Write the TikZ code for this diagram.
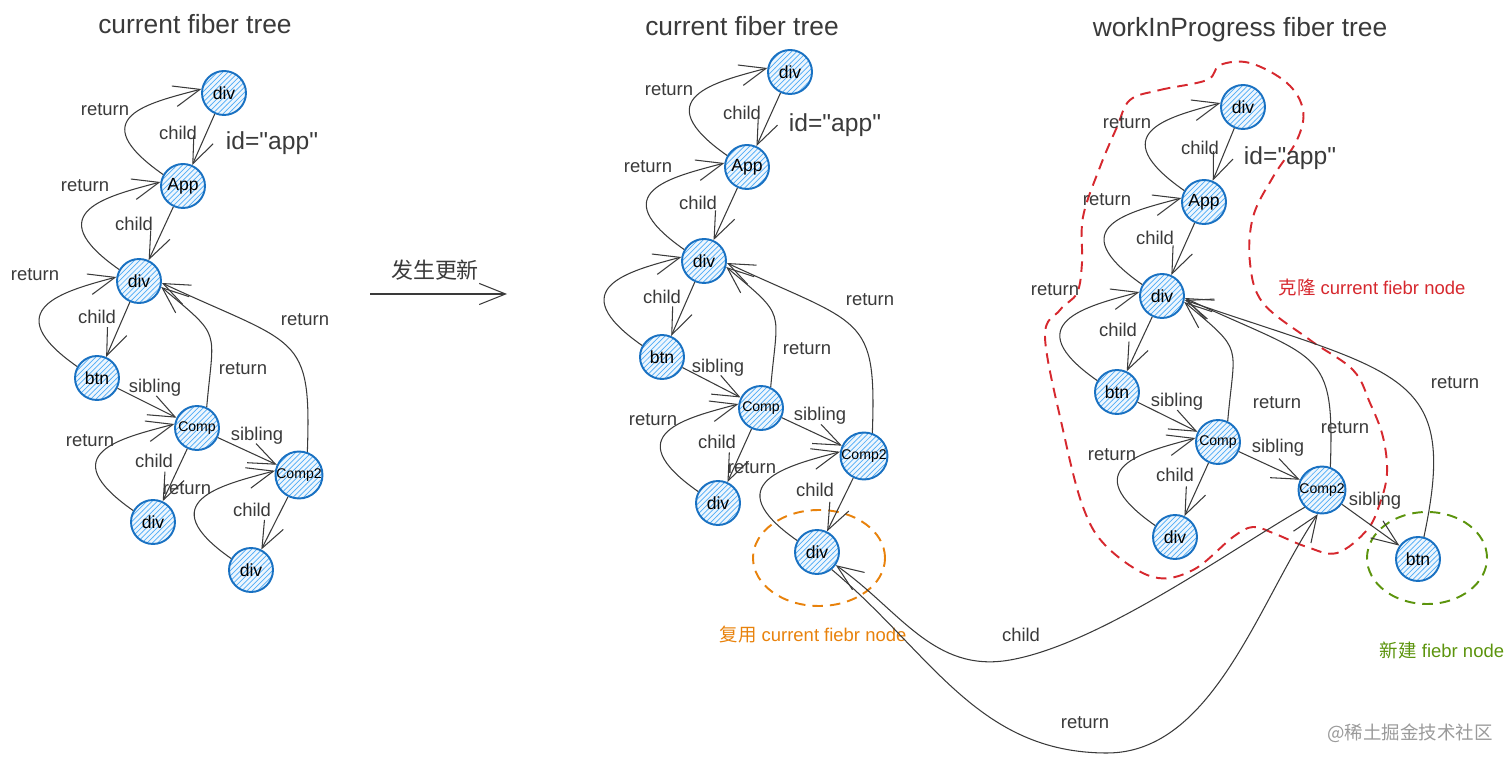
\documentclass[tikz,border=0pt]{standalone}
\usepackage{fontspec}
\setmainfont[Ligatures=TeXOff]{Liberation Sans}
\newfontfamily\cjk{Noto Sans CJK SC}
\usepackage{xcolor}
\usepackage{tikz}
\usetikzlibrary{arrows.meta,patterns}

\definecolor{fiberblue}{HTML}{1971C2}
\definecolor{fiberhatch}{HTML}{4DABF7}
\definecolor{fiberfill}{HTML}{EEF6FD}
\definecolor{inkgray}{HTML}{3A3A3A}
\definecolor{reuseorange}{HTML}{E8820C}
\definecolor{clonered}{HTML}{D6282E}
\definecolor{newgreen}{HTML}{5C940D}
\definecolor{markgray}{HTML}{9A9A9A}

\newcommand{\idapp}{id="app"}

\tikzset{
  fiber/.style={circle, draw=fiberblue, line width=1.1pt, minimum size=0.88cm, inner sep=0pt,
    preaction={fill=fiberfill}, pattern=north east lines, pattern color=fiberhatch,
    font=\fontsize{10}{12}\selectfont},
  compfont/.style={font=\fontsize{8}{10}\selectfont},
  link/.style={draw=inkgray, line width=0.6pt, -{Straight Barb[length=15pt, width=12pt]}},
  goback/.style={out=145, in=195, out distance=2cm, in distance=1.1cm},
  lbl/.style={text=inkgray, font=\fontsize{10.5}{12}\selectfont},
  treetitle/.style={text=inkgray, font=\fontsize{15}{18}\selectfont},
  idtext/.style={text=inkgray, font=\fontsize{14}{16}\selectfont},
  blob/.style={line width=1.1pt, dash pattern=on 6pt off 4pt},
}

\begin{document}
\begin{tikzpicture}
			\useasboundingbox (0,0) rectangle (30.24,-15.28);
			
			% dashed groups
			\draw[blob, clonered] plot[smooth cycle, tension=0.6] coordinates {
				(22.60,-2.00) (23.20,-1.80) (24.14,-1.60) (24.40,-1.30) (25.00,-1.26) (25.74,-1.66)
				(26.06,-2.20) (25.94,-2.80) (25.46,-3.54) (25.06,-4.34) (25.00,-5.26) (25.26,-6.06)
				(26.20,-6.80) (27.06,-7.40) (27.40,-8.06) (27.66,-8.74) (27.74,-9.46) (27.60,-10.06)
				(27.34,-10.60) (26.74,-11.06) (26.14,-10.94) (25.46,-10.66) (25.06,-10.54) (24.66,-10.74)
				(23.86,-11.40) (23.06,-11.54) (22.14,-10.94) (21.66,-10.14) (21.26,-8.60) (20.90,-6.74)
				(21.20,-6.20) (21.54,-5.86) (21.64,-5.26) (21.66,-4.34) (22.00,-3.34) (22.34,-2.54)};
			\draw[blob, reuseorange] (16.38,-11.16) ellipse (1.32 and 0.96);
			\draw[blob, newgreen] (28.54,-11.16) ellipse (1.20 and 0.92);
			
			% current fiber tree (before update)
			\node[treetitle] (title1) at (3.90,-0.48) {current fiber tree};
			\node[fiber] (div1) at (4.48,-1.86) {div};
			\node[fiber] (app) at (3.66,-3.72) {App};
			\node[fiber] (div2) at (2.78,-5.62) {div};
			\node[fiber] (btn) at (1.94,-7.56) {btn};
			\node[fiber, compfont] (comp) at (3.94,-8.56) {Comp};
			\node[fiber] (div3) at (3.06,-10.44) {div};
			\node[fiber, compfont] (comp2) at (5.98,-9.50) {Comp2};
			\node[fiber] (div4) at (5.02,-11.40) {div};
			
			\node[lbl] (lab1) at (2.10,-2.20) {return};
			\node[lbl] (lab2) at (3.56,-2.66) {child};
			\node[idtext] (id1) at (5.44,-2.86) {\idapp};
			\node[lbl] (lab3) at (1.70,-3.72) {return};
			\node[lbl] (lab4) at (2.68,-4.48) {child};
			\node[lbl] (lab5) at (0.70,-5.50) {return};
			\node[lbl] (lab6) at (1.94,-6.34) {child};
			\node[lbl] (lab7) at (6.10,-6.40) {return};
			\node[lbl] (lab8) at (4.86,-7.38) {return};
			\node[lbl] (lab9) at (3.10,-7.76) {sibling};
			\node[lbl] (lab10) at (1.80,-8.82) {return};
			\node[lbl] (lab11) at (5.14,-8.72) {sibling};
			\node[lbl] (lab12) at (3.08,-9.22) {child};
			\node[lbl] (lab13) at (3.74,-9.78) {return};
			\node[lbl] (lab14) at (5.04,-10.20) {child};
			
			\draw[link] (div1) -- (app);
			\draw[link] (app.150) to[goback] (div1.170);
			\draw[link] (app) -- (div2);
			\draw[link] (div2.150) to[goback] (app.170);
			\draw[link] (div2) -- (btn);
			\draw[link] (btn.150) to[goback] (div2.170);
			\draw[link] (btn) -- (comp);
			\draw[link] (comp.65) to[out=85, in=-40, looseness=1.6] (div2.-15);
			\draw[link] (comp) -- (div3);
			\draw[link] (div3.150) to[goback] (comp.170);
			\draw[link] (comp) -- (comp2);
			\draw[link] (comp2.70) to[out=88, in=-25, out distance=2.4cm, in distance=3cm] (div2.-5);
			\draw[link] (comp2) -- (div4);
			\draw[link] (div4.150) to[goback] (comp2.170);
			
			% update arrow
			\coordinate (upd1) at (7.40,-5.88);
			\coordinate (upd2) at (10.14,-5.88);
			\draw[link] (upd1) -- (upd2);
			\node[text=inkgray, font=\fontsize{12.5}{14}\selectfont\cjk] (updlab) at (8.70,-5.40) {发生更新};
			
			% current fiber tree (after update)
			\node[treetitle] (title2) at (14.84,-0.52) {current fiber tree};
			\node[fiber] (div'1) at (15.80,-1.44) {div};
			\node[fiber] (app') at (14.94,-3.34) {App};
			\node[fiber] (div'2) at (14.08,-5.22) {div};
			\node[fiber] (btn') at (13.24,-7.14) {btn};
			\node[fiber, compfont] (comp') at (15.22,-8.16) {Comp};
			\node[fiber] (div'3) at (14.36,-10.06) {div};
			\node[fiber, compfont] (comp'2) at (17.28,-9.12) {Comp2};
			\node[fiber] (div'4) at (16.34,-11.04) {div};
			
			\node[lbl] (lab'1) at (13.38,-1.80) {return};
			\node[lbl] (lab'2) at (14.84,-2.26) {child};
			\node[idtext] (id2) at (16.70,-2.50) {\idapp};
			\node[lbl] (lab'3) at (12.96,-3.34) {return};
			\node[lbl] (lab'4) at (13.96,-4.06) {child};
			\node[lbl] (lab'5) at (13.24,-5.94) {child};
			\node[lbl] (lab'6) at (17.40,-6.00) {return};
			\node[lbl] (lab'7) at (16.14,-6.98) {return};
			\node[lbl] (lab'8) at (14.36,-7.36) {sibling};
			\node[lbl] (lab'9) at (16.40,-8.32) {sibling};
			\node[lbl] (lab'10) at (13.06,-8.40) {return};
			\node[lbl] (lab'11) at (14.34,-8.84) {child};
			\node[lbl] (lab'12) at (15.04,-9.36) {return};
			\node[lbl] (lab'13) at (16.30,-9.80) {child};
			\node[text=reuseorange, font=\fontsize{10.5}{12}\selectfont] (reuse) at (16.26,-12.70) {{\cjk 复用} current fiebr node};
			
			\draw[link] (div'1) -- (app');
			\draw[link] (app'.150) to[goback] (div'1.170);
			\draw[link] (app') -- (div'2);
			\draw[link] (div'2.150) to[goback] (app'.170);
			\draw[link] (div'2) -- (btn');
			\draw[link] (btn'.150) to[goback] (div'2.170);
			\draw[link] (btn') -- (comp');
			\draw[link] (comp'.65) to[out=85, in=-40, looseness=1.6] (div'2.-15);
			\draw[link] (comp') -- (div'3);
			\draw[link] (div'3.150) to[goback] (comp'.170);
			\draw[link] (comp') -- (comp'2);
			\draw[link] (comp'2.70) to[out=88, in=-25, out distance=2.4cm, in distance=3cm] (div'2.-5);
			\draw[link] (comp'2) -- (div'4);
			\draw[link] (div'4.150) to[goback] (comp'2.170);
			
			% workInProgress fiber tree
			\node[treetitle] (title3) at (24.80,-0.60) {workInProgress fiber tree};
			\node[fiber] (div''1) at (24.86,-2.14) {div};
			\node[fiber] (app'') at (24.08,-4.04) {App};
			\node[fiber] (div''2) at (23.24,-5.92) {div};
			\node[fiber] (btn'') at (22.34,-7.84) {btn};
			\node[fiber, compfont] (comp'') at (24.36,-8.84) {Comp};
			\node[fiber] (div''3) at (23.50,-10.74) {div};
			\node[fiber, compfont] (comp''2) at (26.44,-9.80) {Comp2};
			\node[fiber] (nbtn) at (28.36,-11.18) {btn};
			
			\node[lbl] (lab''1) at (22.54,-2.46) {return};
			\node[lbl] (lab''2) at (24.00,-2.96) {child};
			\node[idtext] (id3) at (25.80,-3.16) {\idapp};
			\node[lbl] (lab''3) at (22.14,-4.00) {return};
			\node[lbl] (lab''4) at (23.10,-4.76) {child};
			\node[lbl] (lab''5) at (21.10,-5.80) {return};
			\node[lbl] (lab''6) at (22.36,-6.60) {child};
			\node[lbl] (lab''7) at (29.10,-7.66) {return};
			\node[lbl] (lab''8) at (23.54,-8.04) {sibling};
			\node[lbl] (lab''9) at (25.54,-8.06) {return};
			\node[lbl] (lab''10) at (26.90,-8.56) {return};
			\node[lbl] (lab''11) at (25.56,-8.96) {sibling};
			\node[lbl] (lab''12) at (22.24,-9.10) {return};
			\node[lbl] (lab''13) at (23.50,-9.50) {child};
			\node[lbl] (lab''14) at (27.50,-10.02) {sibling};
			\node[lbl] (lab''15) at (20.42,-12.70) {child};
			\node[lbl] (lab''16) at (21.70,-14.46) {return};
			\node[text=clonered, font=\fontsize{10.5}{12}\selectfont] (clone) at (27.44,-5.74) {{\cjk 克隆} current fiebr node};
			\node[text=newgreen, font=\fontsize{10.5}{12}\selectfont] (create) at (28.84,-13.00) {{\cjk 新建} fiebr node};
			
			\draw[link] (div''1) -- (app'');
			\draw[link] (app''.150) to[goback] (div''1.170);
			\draw[link] (app'') -- (div''2);
			\draw[link] (div''2.150) to[goback] (app''.170);
			\draw[link] (div''2) -- (btn'');
			\draw[link] (btn''.150) to[goback] (div''2.170);
			\draw[link] (btn'') -- (comp'');
			\draw[link] (comp''.65) to[out=85, in=-40, looseness=1.6] (div''2.-15);
			\draw[link] (comp'') -- (div''3);
			\draw[link] (div''3.150) to[goback] (comp''.170);
			\draw[link] (comp'') -- (comp''2);
			\draw[link] (comp''2.70) to[out=88, in=-25, out distance=2.4cm, in distance=3cm] (div''2.-5);
			\draw[link] (comp''2) -- (nbtn);
			\draw[link] (nbtn.75) to[out=78, in=-19, out distance=3.4cm, in distance=4.6cm] (div''2.-10);
			
			% reused node links
			\coordinate (childlow) at (20.20,-13.20);
			\coordinate (returnlow) at (22.14,-15.06);
			\draw[link] (comp''2.225) to[out=210, in=10, looseness=0.7] (childlow) to[out=190, in=-35] (div'4.-35);
			\draw[link] (div'4.-50) to[out=-40, in=180] (returnlow) to[out=0, in=-124, looseness=0.85] (comp''2.-100);
			
			\node[text=markgray, font=\fontsize{10.5}{12}\selectfont\cjk] (mark) at (28.20,-14.66) {@稀土掘金技术社区};
		\end{tikzpicture}
\end{document}
